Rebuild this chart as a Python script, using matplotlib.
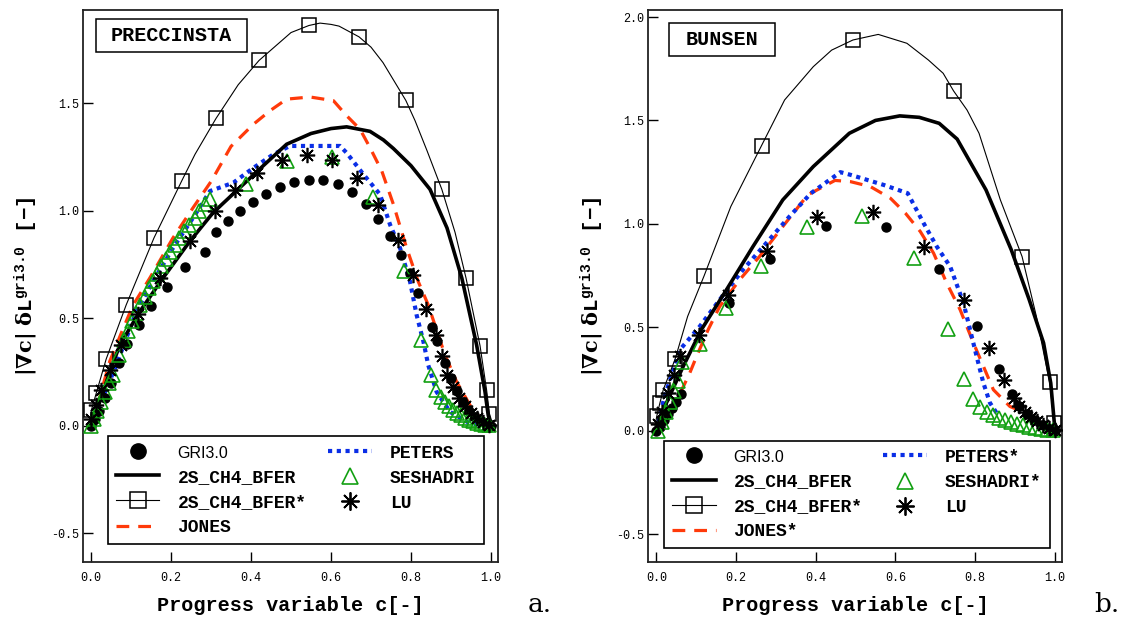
import matplotlib
matplotlib.use('Agg')
import matplotlib.pyplot as plt
from matplotlib.lines import Line2D
from matplotlib.patches import Rectangle

plt.rcParams['mathtext.fontset'] = 'custom'
plt.rcParams['mathtext.rm'] = 'DejaVu Serif:bold'
plt.rcParams['mathtext.bf'] = 'DejaVu Serif:bold'
plt.rcParams['mathtext.tt'] = 'Liberation Mono:bold'
plt.rcParams['mathtext.default'] = 'rm'

# ---------------- PRECCINSTA (panel a) ----------------
p_gri_c = [0.0, 0.01, 0.02, 0.035, 0.05, 0.07, 0.09, 0.12, 0.151, 0.19, 0.234, 0.284, 0.3125, 0.3425,
           0.3725, 0.404, 0.4375, 0.4725, 0.508, 0.545, 0.581, 0.617, 0.6525, 0.687, 0.718, 0.7475,
           0.775, 0.7975, 0.818, 0.852, 0.866, 0.885, 0.90, 0.915, 0.93, 0.945, 0.96, 0.975, 0.99, 1.0]
p_gri_y = [0.0, 0.03, 0.07, 0.13, 0.2, 0.29, 0.38, 0.469, 0.556, 0.646, 0.737, 0.81, 0.90, 0.952,
           0.999, 1.042, 1.079, 1.111, 1.136, 1.145, 1.142, 1.123, 1.087, 1.033, 0.964, 0.885,
           0.796, 0.71, 0.617, 0.46, 0.395, 0.29, 0.22, 0.16, 0.11, 0.07, 0.04, 0.02, 0.005, 0.0]

p_bfer_c = [0.0, 0.02, 0.047, 0.072, 0.122, 0.18, 0.247, 0.305, 0.363, 0.43, 0.489, 0.55, 0.6, 0.639,
            0.6975, 0.731, 0.756, 0.8, 0.8475, 0.89, 0.927, 0.964, 0.985, 0.993, 1.0]
p_bfer_y = [0.0, 0.1, 0.25, 0.375, 0.531, 0.687, 0.858, 0.991, 1.092, 1.209, 1.31, 1.36, 1.383, 1.391,
            1.37, 1.33, 1.29, 1.21, 1.10, 0.92, 0.687, 0.375, 0.157, 0.048, 0.0]

p_bfers_c = [-0.005, 0.001, 0.013, 0.038, 0.088, 0.1575, 0.227, 0.26, 0.3125, 0.368, 0.42, 0.46,
             0.50, 0.545, 0.5725, 0.60, 0.62, 0.67, 0.70, 0.73, 0.787, 0.81, 0.84, 0.877, 0.91,
             0.9375, 0.9725, 0.989, 0.996, 1.005]
p_bfers_y = [0.0, 0.072, 0.15, 0.31, 0.562, 0.874, 1.14, 1.263, 1.43, 1.587, 1.70, 1.765,
             1.83, 1.863, 1.874, 1.868, 1.86, 1.81, 1.762, 1.69, 1.514, 1.42, 1.28, 1.10, 0.90,
             0.687, 0.372, 0.165, 0.056, 0.0]

p_jones_c = [0.0, 0.02, 0.047, 0.08, 0.105, 0.147, 0.205, 0.255, 0.301, 0.35, 0.406, 0.4475, 0.489,
             0.5475, 0.606, 0.639, 0.6725, 0.6975, 0.727, 0.756, 0.789, 0.818, 0.843, 0.868, 0.885,
             0.914, 0.9475, 0.975, 1.0]
p_jones_y = [0.0, 0.12, 0.30, 0.45, 0.56, 0.687, 0.874, 1.014, 1.139, 1.30, 1.403, 1.466, 1.52,
             1.53, 1.513, 1.443, 1.38, 1.294, 1.185, 1.03, 0.827, 0.671, 0.562, 0.422, 0.329,
             0.204, 0.095, 0.03, 0.0]

p_peters_c = [0.0, 0.02, 0.063, 0.113, 0.155, 0.205, 0.255, 0.2975, 0.356, 0.406, 0.456, 0.4975,
              0.6225, 0.639, 0.681, 0.7225, 0.7475, 0.7725, 0.7975, 0.814, 0.831, 0.843, 0.864,
              0.8975, 0.9475, 0.98]
p_peters_y = [0.0, 0.09, 0.28, 0.531, 0.671, 0.827, 0.967, 1.092, 1.131, 1.2, 1.263, 1.302,
              1.302, 1.27, 1.17, 1.076, 0.936, 0.827, 0.671, 0.515, 0.391, 0.282, 0.157,
              0.064, 0.01, 0.0]

p_sesh_c = [0.0, 0.008, 0.016, 0.025, 0.034, 0.045, 0.056, 0.07, 0.082, 0.093, 0.103, 0.113, 0.123,
            0.134, 0.145, 0.155, 0.165, 0.176, 0.187, 0.198, 0.209, 0.22, 0.2325, 0.245, 0.259,
            0.271, 0.284, 0.297, 0.388, 0.489, 0.602, 0.704, 0.7825, 0.826, 0.85, 0.863, 0.874,
            0.885, 0.895, 0.905, 0.915, 0.925, 0.935, 0.945, 0.955, 0.965, 0.975, 0.985, 0.995]
p_sesh_y = [0.0, 0.03, 0.07, 0.11, 0.155, 0.2, 0.235, 0.33, 0.399, 0.44, 0.485, 0.525, 0.562,
            0.6, 0.64, 0.673, 0.706, 0.742, 0.777, 0.81, 0.843, 0.874, 0.905, 0.936, 0.967,
            0.998, 1.03, 1.056, 1.126, 1.232, 1.251, 1.066, 0.718, 0.4, 0.235, 0.168, 0.134,
            0.11, 0.09, 0.075, 0.06, 0.048, 0.037, 0.028, 0.02, 0.013, 0.008, 0.004, 0.001]

p_lu_c = [0.001, 0.013, 0.026, 0.047, 0.076, 0.1175, 0.172, 0.2475, 0.31, 0.36, 0.414, 0.477, 0.54,
          0.603, 0.664, 0.718, 0.767, 0.804, 0.8375, 0.8625, 0.877, 0.891, 0.905, 0.92, 0.935,
          0.95, 0.965, 0.98, 0.995]
p_lu_y = [0.033, 0.095, 0.165, 0.258, 0.375, 0.52, 0.685, 0.86, 1.0, 1.095, 1.178, 1.237, 1.26,
          1.235, 1.153, 1.027, 0.863, 0.702, 0.544, 0.422, 0.326, 0.235, 0.18, 0.13, 0.09,
          0.06, 0.035, 0.015, 0.003]

# ---------------- BUNSEN (panel b) ----------------
b_gri_c = [0.0, 0.01, 0.02, 0.03, 0.04, 0.05, 0.063, 0.182, 0.286, 0.426, 0.5775, 0.71, 0.805,
           0.86, 0.892, 0.91, 0.93, 0.95, 0.97, 0.99, 1.0]
b_gri_y = [0.0, 0.02, 0.05, 0.08, 0.11, 0.14, 0.176, 0.617, 0.832, 0.992, 0.984, 0.782, 0.508,
           0.298, 0.176, 0.12, 0.08, 0.05, 0.025, 0.008, 0.0]

b_bfer_c = [0.0, 0.0175, 0.0675, 0.113, 0.176, 0.2425, 0.3175, 0.394, 0.4845, 0.55, 0.611, 0.66,
            0.71, 0.755, 0.8275, 0.891, 0.936, 0.972, 0.99, 0.999, 1.01]
b_bfer_y = [0.0, 0.101, 0.311, 0.488, 0.681, 0.89, 1.116, 1.277, 1.438, 1.50, 1.522, 1.515,
            1.486, 1.41, 1.164, 0.874, 0.633, 0.424, 0.23, 0.037, 0.0]

b_bfers_c = [-0.005, 0.001, 0.009, 0.0175, 0.047, 0.0785, 0.12, 0.187, 0.22, 0.264, 0.322, 0.394,
             0.44, 0.4935, 0.557, 0.629, 0.683, 0.72, 0.746, 0.78, 0.81, 0.8635, 0.918, 0.954,
             0.987, 0.999, 1.01]
b_bfers_y = [0.0, 0.069, 0.134, 0.198, 0.345, 0.552, 0.749, 1.084, 1.21, 1.378, 1.599, 1.76,
             1.84, 1.889, 1.916, 1.873, 1.792, 1.728, 1.643, 1.55, 1.438, 1.116, 0.842, 0.552,
             0.235, 0.037, 0.0]

b_jones_c = [0.01, 0.04, 0.084, 0.101, 0.13, 0.159, 0.209, 0.259, 0.3175, 0.38, 0.4485, 0.4875,
             0.5375, 0.5875, 0.625, 0.6625, 0.696, 0.729, 0.7625, 0.796, 0.821, 0.846, 0.8875,
             0.927, 0.96, 1.0]
b_jones_y = [0.0, 0.1, 0.279, 0.359, 0.488, 0.6, 0.729, 0.842, 0.987, 1.14, 1.21, 1.204,
             1.18, 1.124, 1.052, 0.963, 0.858, 0.713, 0.585, 0.424, 0.311, 0.198, 0.117,
             0.086, 0.04, 0.0]

b_peters_c = [0.0, 0.02, 0.059, 0.109, 0.159, 0.2175, 0.276, 0.334, 0.388, 0.462, 0.4875, 0.571,
              0.631, 0.671, 0.704, 0.7375, 0.771, 0.7875, 0.804, 0.821, 0.8375, 0.854]
b_peters_y = [0.0, 0.16, 0.391, 0.504, 0.633, 0.778, 0.907, 1.035, 1.148, 1.25, 1.237, 1.188,
              1.148, 1.003, 0.89, 0.794, 0.617, 0.488, 0.359, 0.23, 0.134, 0.086]

b_sesh_c = [0.005, 0.015, 0.025, 0.035, 0.045, 0.055, 0.065, 0.109, 0.174, 0.262, 0.378, 0.516,
            0.647, 0.731, 0.772, 0.796, 0.8125, 0.829, 0.845, 0.86, 0.875, 0.89, 0.905, 0.92,
            0.935, 0.95, 0.965, 0.98, 0.995]
b_sesh_y = [0.0, 0.04, 0.09, 0.14, 0.19, 0.24, 0.332, 0.419, 0.593, 0.798, 0.983, 1.04,
            0.837, 0.49, 0.25, 0.153, 0.113, 0.089, 0.075, 0.062, 0.052, 0.042, 0.034, 0.027,
            0.02, 0.014, 0.009, 0.005, 0.001]

b_lu_c = [0.005, 0.015, 0.03, 0.045, 0.059, 0.107, 0.18, 0.2775, 0.403, 0.543, 0.673, 0.772,
          0.835, 0.873, 0.897, 0.91, 0.925, 0.94, 0.955, 0.97, 0.985, 1.0]
b_lu_y = [0.03, 0.09, 0.18, 0.27, 0.36, 0.464, 0.655, 0.871, 1.035, 1.056, 0.89, 0.632,
          0.398, 0.244, 0.158, 0.12, 0.09, 0.065, 0.045, 0.028, 0.013, 0.003]

p_names = ['GRI3.0', '2S_CH4_BFER', '2S_CH4_BFER*', 'JONES', 'PETERS', 'SESHADRI', 'LU']
b_names = ['GRI3.0', '2S_CH4_BFER', '2S_CH4_BFER*', 'JONES*', 'PETERS*', 'SESHADRI*', 'LU']
yticks = [-0.5, 0.0, 0.5, 1.0, 1.5, 2.0]
xticks = [0.0, 0.2, 0.4, 0.6, 0.8, 1.0]

RED = '#ff3a0a'
BLUE = '#0a2ee6'
GREEN = '#12a012'
MONO = 'Liberation Mono'
STAR = (8, 2, 0)


def draw_panel(ax, d, names, sq_every, title, tbox, leg_box, ylim):
    ax.plot(d['jones'][0], d['jones'][1], color=RED, lw=2.3, dashes=(4, 2.8), zorder=2)
    ax.plot(d['peters'][0], d['peters'][1], color=BLUE, lw=3.0, dashes=(1, 1.1),
            dash_capstyle='butt', zorder=2)
    ax.plot(d['bfer'][0], d['bfer'][1], color='black', lw=2.6, zorder=2)
    ax.plot(d['bfers'][0], d['bfers'][1], color='black', lw=0.8, marker='s', ms=10,
            mfc='none', mec='black', mew=1.1, markevery=sq_every, zorder=3)
    ax.plot(d['gri'][0], d['gri'][1], ls='none', marker='o', ms=6.5, color='black', zorder=4)
    ax.plot(d['sesh'][0], d['sesh'][1], ls='none', marker='^', ms=9.5, mfc='none',
            mec=GREEN, mew=1.2, zorder=4)
    ax.plot(d['lu'][0], d['lu'][1], ls='none', marker=STAR, ms=11, mec='black', mew=1.2,
            color='black', zorder=5)

    ax.set_xlim(-0.02, 1.0175)
    ax.set_ylim(*ylim)
    ax.set_xticks(xticks)
    ax.set_yticks([t for t in yticks if t <= ylim[1]])
    ax.xaxis.set_major_formatter(plt.FormatStrFormatter('%.1f'))
    ax.yaxis.set_major_formatter(plt.FormatStrFormatter('%.1f'))
    ax.tick_params(direction='in', length=7, width=1, top=False, right=False, labelsize=8.5)
    ax.tick_params(axis='x', pad=7)
    ax.tick_params(axis='y', pad=3)
    for lab in ax.get_xticklabels() + ax.get_yticklabels():
        lab.set_fontfamily(MONO)
    for sp in ax.spines.values():
        sp.set_linewidth(1.3)
        sp.set_color('#222222')

    ax.set_xlabel('Progress variable c[-]', fontfamily=MONO, fontweight='bold',
                  fontsize=14.5, labelpad=9)
    ax.set_ylabel(r'$|\nabla\mathrm{c}|\ \delta\mathtt{L}^{\mathtt{gri3.0}}\ \ \mathtt{[-]}$',
                  fontsize=15)
    ax.yaxis.set_label_coords(-0.103, 0.5)

    x0, y0, x1, y1 = tbox
    ax.add_patch(Rectangle((x0, y0), x1 - x0, y1 - y0, transform=ax.transAxes,
                           fc='white', ec='black', lw=1.1, zorder=6))
    ax.text((x0 + x1) / 2, (y0 + y1) / 2, title, transform=ax.transAxes, ha='center',
            va='center', fontfamily=MONO, fontweight='bold', fontsize=14.5, zorder=7)

    handles = [
        Line2D([], [], ls='none', marker='o', ms=11, color='black'),
        Line2D([], [], color='black', lw=2.6),
        Line2D([], [], color='black', lw=0.8, marker='s', ms=11, mfc='none', mew=1.1),
        Line2D([], [], color=RED, lw=2.3, dashes=(4, 2.8)),
        Line2D([], [], color=BLUE, lw=3.0, dashes=(1, 1.1), dash_capstyle='butt'),
        Line2D([], [], ls='none', marker='^', ms=12, mfc='none', mec=GREEN, mew=1.2),
        Line2D([], [], ls='none', marker=STAR, ms=13, color='black', mew=1.3),
    ]
    leg = ax.legend(handles, names, ncol=2, loc='lower left', bbox_to_anchor=leg_box,
                    mode='expand', borderaxespad=0, frameon=True, fancybox=False,
                    edgecolor='black', framealpha=1, handlelength=2.4, handletextpad=1.0,
                    labelspacing=0.45, borderpad=0.45,
                    prop={'family': MONO, 'weight': 'bold', 'size': 13})
    leg.get_frame().set_linewidth(1.2)
    t0 = leg.get_texts()[0]
    t0.set_fontfamily('Liberation Sans')
    t0.set_fontweight('normal')
    t0.set_fontsize(11.5)
    leg.set_zorder(10)


fig = plt.figure(figsize=(11.26, 6.25), dpi=100)
ax1 = fig.add_axes([0.0737, 0.1008, 0.3686, 0.8832])
ax2 = fig.add_axes([0.5758, 0.1008, 0.3671, 0.8832])

p_data = {'gri': (p_gri_c, p_gri_y), 'bfer': (p_bfer_c, p_bfer_y), 'bfers': (p_bfers_c, p_bfers_y),
          'jones': (p_jones_c, p_jones_y), 'peters': (p_peters_c, p_peters_y),
          'sesh': (p_sesh_c, p_sesh_y), 'lu': (p_lu_c, p_lu_y)}
b_data = {'gri': (b_gri_c, b_gri_y), 'bfer': (b_bfer_c, b_bfer_y), 'bfers': (b_bfers_c, b_bfers_y),
          'jones': (b_jones_c, b_jones_y), 'peters': (b_peters_c, b_peters_y),
          'sesh': (b_sesh_c, b_sesh_y), 'lu': (b_lu_c, b_lu_y)}

draw_panel(ax1, p_data, p_names, [1, 2, 3, 4, 5, 6, 8, 10, 13, 17, 20, 23, 25, 26, 27, 28],
           'PRECCINSTA', (0.0306, 0.9245, 0.394, 0.9837), (0.06, 0.0326, 0.906, 0.192),
           (-0.635, 1.935))
draw_panel(ax2, b_data, b_names, [1, 2, 3, 4, 6, 9, 13, 18, 22, 24, 25],
           'BUNSEN', (0.0508, 0.9172, 0.3058, 0.9759), (0.038, 0.0248, 0.933, 0.19),
           (-0.635, 2.034))

fig.text(540 / 1126, 1 - 605 / 625, 'a.', fontfamily='DejaVu Serif', fontsize=19,
         ha='center', va='center')
fig.text(1107 / 1126, 1 - 605 / 625, 'b.', fontfamily='DejaVu Serif', fontsize=19,
         ha='center', va='center')

fig.savefig('out.png', dpi=100)
